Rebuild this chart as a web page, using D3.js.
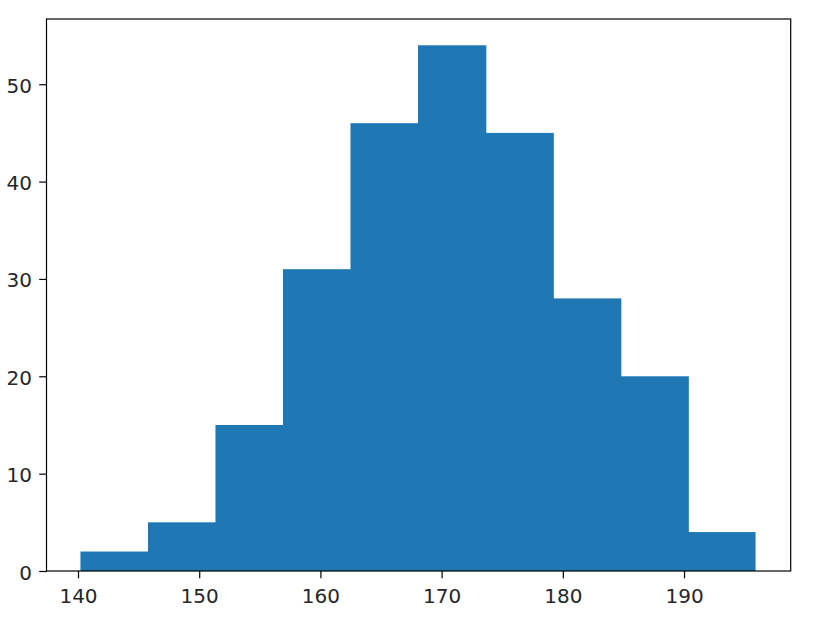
<!DOCTYPE html>
<html>
<head>
<meta charset="utf-8">
<script src="https://cdn.jsdelivr.net/npm/d3@7"></script>
<style>
  body { margin: 0; background: #fff; }
  .tick text { font-family: "DejaVu Sans", sans-serif; font-size: 20px; fill: #262626; }
</style>
</head>
<body>
<div id="chart"></div>
<script>
// histogram bin edges and counts
var binEdges = [140.2, 145.77, 151.34, 156.91, 162.48, 168.05, 173.62, 179.19, 184.76, 190.33, 195.9];
var counts = [2, 5, 15, 31, 46, 54, 45, 28, 20, 4];
var xTicks = [140, 150, 160, 170, 180, 190];
var yTicks = [0, 10, 20, 30, 40, 50];
// axis limits (matplotlib auto margins)
var xLimits = [137.4, 198.8];
var yLimits = [0, 56.7];

var width = 815;
var height = 629;

// axes box
var boxLeft = 46.5, boxRight = 790.7, boxTop = 19, boxBottom = 571;
var tickLen = 7.3;

var svg = d3.select("#chart")
  .append("svg")
  .attr("width", width)
  .attr("height", height);

var xScale = d3.scaleLinear()
  .domain(xLimits)
  .range([boxLeft, boxRight]);

var yScale = d3.scaleLinear()
  .domain(yLimits)
  .range([boxBottom, boxTop]);

var bins = counts.map(function(c, i) {
  return { x0: binEdges[i], x1: binEdges[i + 1], count: c };
});

// bars overlap a hair so no seams show between neighbours
svg.append("g")
  .selectAll("rect")
  .data(bins)
  .enter()
  .append("rect")
  .attr("x", function(d) { return xScale(d.x0); })
  .attr("width", function(d, i) {
    var w = xScale(d.x1) - xScale(d.x0);
    return i < bins.length - 1 ? w + 0.8 : w;
  })
  .attr("y", function(d) { return yScale(d.count); })
  .attr("height", function(d) { return yScale(0) - yScale(d.count); })
  .attr("fill", "#1f77b4");

var xAxis = d3.axisBottom(xScale).tickValues(xTicks).tickSize(tickLen).tickPadding(10).tickSizeOuter(0);
var yAxis = d3.axisLeft(yScale).tickValues(yTicks).tickSize(tickLen).tickPadding(7.3).tickSizeOuter(0);

var gx = svg.append("g")
  .attr("transform", "translate(0," + boxBottom + ")")
  .call(xAxis);
var gy = svg.append("g")
  .attr("transform", "translate(" + boxLeft + ",0)")
  .call(yAxis);
gy.selectAll(".tick text").attr("dy", "0.4em");

[gx, gy].forEach(function(g) {
  g.select(".domain").remove();
  g.selectAll(".tick line").attr("stroke", "#000").attr("stroke-width", 1.2);
});

// frame around the plot area
svg.append("rect")
  .attr("x", boxLeft)
  .attr("y", boxTop)
  .attr("width", boxRight - boxLeft)
  .attr("height", boxBottom - boxTop)
  .attr("fill", "none")
  .attr("stroke", "#000")
  .attr("stroke-width", 1.2);
</script>
</body>
</html>
